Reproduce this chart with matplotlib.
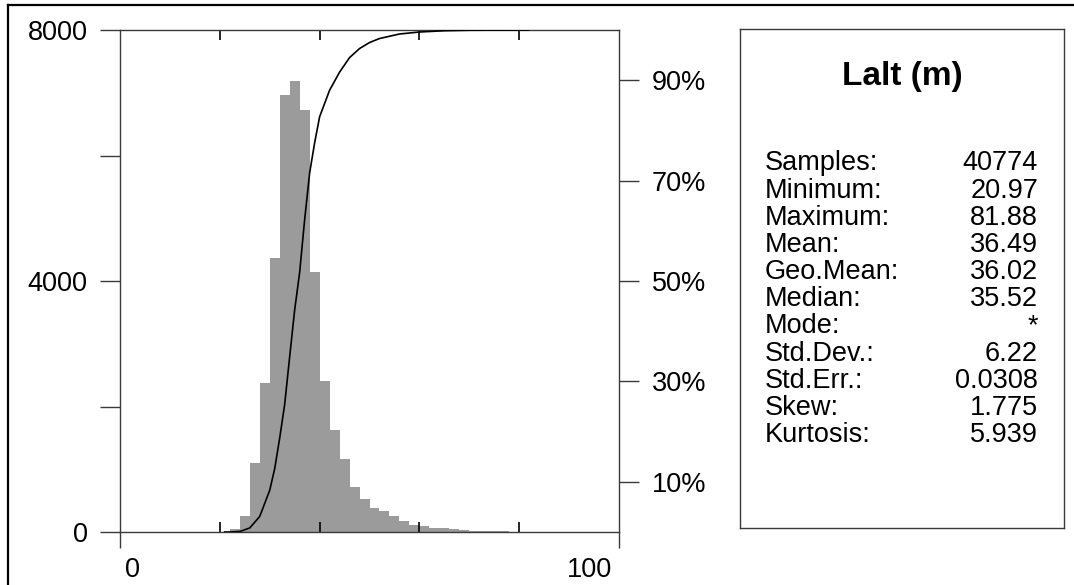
import numpy as np
import matplotlib.pyplot as plt
from matplotlib.lines import Line2D
from matplotlib.ticker import FixedLocator

plt.rcParams['font.family'] = ['Liberation Sans', 'DejaVu Sans']

# histogram counts, bins of width 2 starting at 20
bin_start = 20
bin_width = 2
counts = [5, 45, 260, 1100, 2380, 4370, 6960, 7190, 6730, 4150, 2400, 1630,
          1170, 710, 520, 390, 335, 260, 180, 110, 95, 65, 60, 45, 30, 22,
          18, 14, 10, 7, 4]

# cumulative curve (value, percent)
cdf_x = [20.97, 22, 24, 26, 28, 30, 31, 32, 33, 34, 35, 36, 37, 38, 39, 40,
         42, 44, 46, 48, 50, 52, 56, 60, 65, 70, 81.88]
cdf_pct = [0, 0, 0.1, 0.8, 3.1, 8.3, 12.6, 18.7, 25.4, 34.9, 44.2, 51.7, 62.2,
           71.5, 77.5, 82.7, 88.0, 91.6, 94.5, 96.3, 97.5, 98.3, 99.2, 99.6,
           99.85, 99.95, 100]

y_ticks = [0, 2000, 4000, 6000, 8000]
y_labels = ['0', '', '4000', '', '8000']
pct_ticks = [10, 30, 50, 70, 90]

title = 'Lalt (m)'
stat_names = ['Samples:', 'Minimum:', 'Maximum:', 'Mean:', 'Geo.Mean:',
              'Median:', 'Mode:', 'Std.Dev.:', 'Std.Err.:', 'Skew:', 'Kurtosis:']
stat_values = ['40774', '20.97', '81.88', '36.49', '36.02', '35.52', '*',
               '6.22', '0.0308', '1.775', '5.939']

W, H = 1074, 585
fig = plt.figure(figsize=(W / 100, H / 100), dpi=100)

frame_col = '#3a3a3a'
fs = 19.5

ax = fig.add_axes([120 / W, 1 - 532 / H, 499 / W, 502 / H])
edges = bin_start + bin_width * np.arange(len(counts) + 1)
ax.stairs(counts, edges, fill=True, color='#9b9b9b', linewidth=0)
ax.set_xlim(0, 100)
ax.set_ylim(0, 8000)

for s in ax.spines.values():
    s.set_color(frame_col)
    s.set_linewidth(1.0)
ax.spines['right'].set_visible(False)

ax.set_yticks(y_ticks)
ax.set_yticklabels(y_labels, fontsize=fs)
ax.tick_params(axis='y', direction='out', length=14.4, width=1.0,
               color=frame_col, pad=9)

ax.set_xticks([0, 100])
ax.set_xticklabels([])
ax.tick_params(axis='x', which='major', direction='out', length=11.5,
               width=1.0, color=frame_col, top=False)
ax.xaxis.set_minor_locator(FixedLocator([20, 40, 60, 80]))
ax.tick_params(axis='x', which='minor', direction='in', length=7.2,
               width=1.2, color='black', top=True, bottom=True)

xt = ax.get_xaxis_transform()
ax.text(2.6, -0.0757, '0', transform=xt, ha='center', va='center', fontsize=fs)
ax.text(98.6, -0.0757, '100', transform=xt, ha='right', va='center', fontsize=fs)

ax2 = ax.twinx()
ax2.plot(cdf_x, cdf_pct, color='black', linewidth=1.2)
ax2.set_ylim(0, 100)
for name, s in ax2.spines.items():
    s.set_visible(name == 'right')
    s.set_color(frame_col)
    s.set_linewidth(1.0)
ax2.set_yticks(pct_ticks)
ax2.set_yticklabels([f'{t}%' for t in pct_ticks], fontsize=fs)
ax2.tick_params(axis='y', direction='out', length=14.4, width=1.0,
                color=frame_col, pad=9)

# statistics box
bx = fig.add_axes([740 / W, 1 - 528 / H, 324 / W, 499 / H])
bx.set_xticks([])
bx.set_yticks([])
for s in bx.spines.values():
    s.set_color(frame_col)
    s.set_linewidth(1.0)
bx.text(0.5, (528 - 77) / 499, title, transform=bx.transAxes, ha='center',
        va='center', fontsize=24, fontweight='bold')
for i, (n, v) in enumerate(zip(stat_names, stat_values)):
    yb = (528 - (170.5 + 27.15 * i)) / 499
    bx.text(25 / 324, yb, n, transform=bx.transAxes, ha='left',
            va='baseline', fontsize=fs)
    bx.text(298 / 324, yb, v, transform=bx.transAxes, ha='right',
            va='baseline', fontsize=fs)

# outer frame (left and top edges)
fig.add_artist(Line2D([8 / W, 8 / W], [0, 1 - 5 / H], transform=fig.transFigure,
                      color='black', linewidth=1.6))
fig.add_artist(Line2D([8 / W, 1], [1 - 5 / H, 1 - 5 / H], transform=fig.transFigure,
                      color='black', linewidth=1.6))

fig.savefig('out.png', dpi=100)
